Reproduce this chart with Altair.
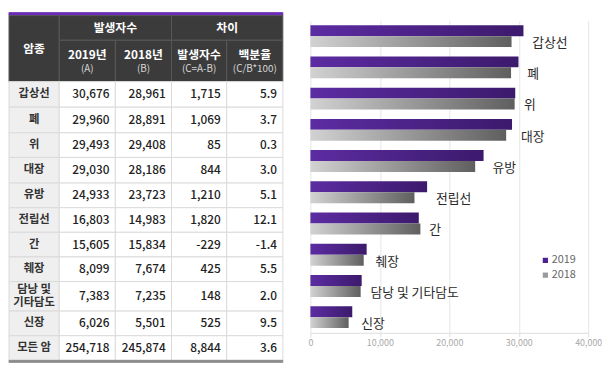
import altair as alt
import pandas as pd

# ---------------- data ----------------
cancers = ["갑상선", "폐", "위", "대장", "유방", "전립선", "간", "췌장", "담낭 및 기타담도", "신장"]
table_labels = ["갑상선", "폐", "위", "대장", "유방", "전립선", "간", "췌장", "담낭 및\n기타담도", "신장"]
cases_2019 = [30676, 29960, 29493, 29030, 24933, 16803, 15605, 8099, 7383, 6026]
cases_2018 = [28961, 28891, 29408, 28186, 23723, 14983, 15834, 7674, 7235, 5501]
diff_cases = [1715, 1069, 85, 844, 1210, 1820, -229, 425, 148, 525]
diff_pct = [5.9, 3.7, 0.3, 3.0, 5.1, 12.1, -1.4, 5.5, 2.0, 9.5]
total_label = "모든 암"
total_2019 = 254718
total_2018 = 245874
total_diff = 8844
total_pct = 3.6

header_top = ["암종", "발생자수", "차이"]
header_sub_main = ["2019년", "2018년", "발생자수", "백분율"]
header_sub_note = ["(A)", "(B)", "(C=A-B)", "(C/B*100)"]
years = ["2019", "2018"]
axis_ticks = [0, 10000, 20000, 30000, 40000]

FONT = "Noto Sans CJK KR"

# ---------------- table layout ----------------
col_w = [51, 57, 57, 56, 57]
top_gap = 2
accent_h = 3
hdr_h = [25, 42]
row_h = [26, 26, 25, 26, 25, 25, 25, 25, 30, 25, 25]
bottom_h = 2
line_gap = 13.5

edges = [0]
for w in col_w:
    edges.append(edges[-1] + w)
TW = edges[-1]
y_acc0 = top_gap
y_h0 = y_acc0 + accent_h
y_h1 = y_h0 + hdr_h[0]
y_h2 = y_h1 + hdr_h[1]
row_edges = [y_h2]
for h in row_h:
    row_edges.append(row_edges[-1] + h)
y_bot = row_edges[-1]
TH = y_bot + bottom_h

HDR_BG = "#3b3b3b"
HDR_LINE = "#585858"
cells = []
cells.append(dict(x0=0, x1=TW, y0=y_acc0, y1=y_h0, fill="#6b2db5", stroke="#6b2db5"))
cells.append(dict(x0=edges[0], x1=edges[1], y0=y_h0, y1=y_h2, fill=HDR_BG, stroke=HDR_LINE))
cells.append(dict(x0=edges[1], x1=edges[3], y0=y_h0, y1=y_h1, fill=HDR_BG, stroke=HDR_LINE))
cells.append(dict(x0=edges[3], x1=edges[5], y0=y_h0, y1=y_h1, fill=HDR_BG, stroke=HDR_LINE))
for i in range(1, 5):
    cells.append(dict(x0=edges[i], x1=edges[i + 1], y0=y_h1, y1=y_h2, fill=HDR_BG, stroke=HDR_LINE))

rows = []
for i in range(len(cancers)):
    rows.append([table_labels[i], f"{cases_2019[i]:,}", f"{cases_2018[i]:,}",
                 f"{diff_cases[i]:,}", f"{diff_pct[i]:.1f}"])
rows.append([total_label, f"{total_2019:,}", f"{total_2018:,}", f"{total_diff:,}", f"{total_pct:.1f}"])

labels_txt, nums_txt = [], []
for r, row in enumerate(rows):
    y0, y1 = row_edges[r], row_edges[r + 1]
    cy = (y0 + y1) / 2
    for c in range(5):
        cells.append(dict(x0=edges[c], x1=edges[c + 1], y0=y0, y1=y1,
                          fill="#efefef" if c == 0 else "#ffffff", stroke="#dadada"))
        if c == 0:
            parts = row[0].split("\n")
            n = len(parts)
            for k, p in enumerate(parts):
                labels_txt.append(dict(tx=(edges[0] + edges[1]) / 2,
                                       ty=cy + (k - (n - 1) / 2) * line_gap, text=p))
        else:
            nums_txt.append(dict(tx=edges[c + 1] - 6, ty=cy, text=row[c]))
cells.append(dict(x0=0, x1=TW, y0=y_bot, y1=y_bot + bottom_h, fill="#8c8c8c", stroke="#8c8c8c"))

hdr_main = [
    dict(tx=(edges[0] + edges[1]) / 2, ty=(y_h0 + y_h2) / 2, text=header_top[0]),
    dict(tx=(edges[1] + edges[3]) / 2, ty=(y_h0 + y_h1) / 2, text=header_top[1]),
    dict(tx=(edges[3] + edges[5]) / 2, ty=(y_h0 + y_h1) / 2, text=header_top[2]),
]
hdr_note = []
for i in range(4):
    cx = (edges[i + 1] + edges[i + 2]) / 2
    hdr_main.append(dict(tx=cx, ty=y_h1 + 15, text=header_sub_main[i]))
    hdr_note.append(dict(tx=cx, ty=y_h1 + 29, text=header_sub_note[i]))

cells_df = pd.DataFrame(cells)
xs = alt.Scale(domain=[0, TW], nice=False, zero=False)
ys = alt.Scale(domain=[0, TH], nice=False, zero=False, reverse=True)

rects = alt.Chart(cells_df).mark_rect(strokeWidth=1).encode(
    x=alt.X("x0:Q", scale=xs, axis=None), x2="x1:Q",
    y=alt.Y("y0:Q", scale=ys, axis=None), y2="y1:Q",
    fill=alt.Fill("fill:N", scale=None),
    stroke=alt.Stroke("stroke:N", scale=None),
)


def text_layer(records, **mk):
    return alt.Chart(pd.DataFrame(records)).mark_text(font=FONT, baseline="middle", **mk).encode(
        x=alt.X("tx:Q", scale=xs, axis=None),
        y=alt.Y("ty:Q", scale=ys, axis=None),
        text="text:N",
    )


table = alt.layer(
    rects,
    text_layer(hdr_main, fontSize=12, fontWeight="bold", color="#ffffff"),
    text_layer(hdr_note, fontSize=10, color="#d8d8d8"),
    text_layer(labels_txt, fontSize=11.5, fontWeight="bold", color="#333333"),
    text_layer(nums_txt, fontSize=12, fontWeight=500, align="right", color="#222222"),
).properties(width=TW, height=TH)

# ---------------- bar chart ----------------
bars_df = pd.DataFrame({
    "cancer": cancers * 2,
    "year": [years[0]] * len(cancers) + [years[1]] * len(cancers),
    "cases": cases_2019 + cases_2018,
})
wide_df = pd.DataFrame({"cancer": cancers, "c2019": cases_2019, "c2018": cases_2018})

x_scale = alt.Scale(domain=[0, 40000], nice=False)
x_axis = alt.Axis(values=axis_ticks, grid=True, gridColor="#e6e6e6",
                  labelExpr="datum.value == 0 ? '0' : toString(datum.value / 1000) + ',000'",
                  labelFlush=False,
                  domainColor="#dddddd", tickColor="#dddddd", tickSize=4,
                  labelColor="#a8a8a8", labelFontSize=9, labelFont=FONT,
                  labelPadding=2, title=None)
y_enc = alt.Y("cancer:N", sort=cancers, axis=None,
              scale=alt.Scale(paddingInner=0.3, paddingOuter=0.15))
yoff_enc = alt.YOffset("year:N", sort=years, scale=alt.Scale(domain=years, paddingInner=0, paddingOuter=0))
x_enc = alt.X("cases:Q", title=None, scale=x_scale, axis=x_axis)

purple = alt.Gradient(gradient="linear", x1=0, x2=1, y1=0, y2=0,
                      stops=[alt.GradientStop(color="#5c2ca2", offset=0),
                             alt.GradientStop(color="#3c1a6c", offset=1)])
gray = alt.Gradient(gradient="linear", x1=0, x2=1, y1=0, y2=0,
                    stops=[alt.GradientStop(color="#d2d2d2", offset=0),
                           alt.GradientStop(color="#5f5f5f", offset=1)])

base = alt.Chart(bars_df)
bar19 = base.transform_filter(alt.datum.year == years[0]).mark_bar(color=purple).encode(
    x=x_enc, y=y_enc, yOffset=yoff_enc)
bar18 = base.transform_filter(alt.datum.year == years[1]).mark_bar(color=gray).encode(
    x=x_enc, y=y_enc, yOffset=yoff_enc)
legend_layer = base.mark_square(opacity=0, size=30).encode(
    x=x_enc, y=y_enc, yOffset=yoff_enc,
    color=alt.Color("year:N", sort=years,
                    scale=alt.Scale(domain=years, range=["#4a2190", "#9a9a9a"]),
                    legend=alt.Legend(title=None, orient="none", legendX=539, legendY=248,
                                      symbolType="square", symbolSize=28, symbolOpacity=1,
                                      labelFont=FONT, labelFontSize=11, labelColor="#666666",
                                      rowPadding=3, labelOffset=1)),
)
labels = alt.Chart(wide_df).transform_calculate(
    mx="max(datum.c2019, datum.c2018)"
).mark_text(font=FONT, fontSize=13, align="left", baseline="middle", dx=9, dy=7, color="#2a2a2a").encode(
    x=alt.X("mx:Q", title=None, scale=x_scale, axis=x_axis), y=y_enc, text="cancer:N")

bars = alt.layer(bar19, bar18, legend_layer, labels).properties(width=282, height=317)

# invisible spacer that pushes the bar panel down below the table's top edge
spacer = alt.Chart(pd.DataFrame({"s": [0]})).mark_rect(opacity=0).encode(
    x=alt.value(0), x2=alt.value(1), y=alt.value(0), y2=alt.value(1)
).properties(width=282, height=1)

right = alt.vconcat(spacer, bars, spacing=9)

chart = alt.hconcat(table, right, spacing=24).properties(padding=0).configure_view(stroke=None)

chart.save("out.html", embed_options={"renderer": "svg", "actions": False})
